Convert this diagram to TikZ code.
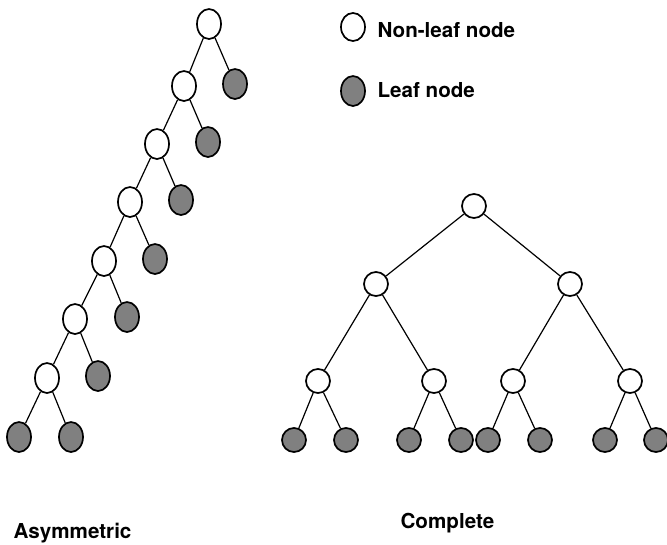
\documentclass[tikz,border=0pt]{standalone}
\usepackage{fontspec}
\setmainfont{TeX Gyre Heros}
\usetikzlibrary{shapes.geometric}

\begin{document}
\begin{tikzpicture}[x=1pt, y=-1pt, line width=1.2pt,
  inner/.style={ellipse, draw, fill=white, minimum width=24pt, minimum height=30pt, inner sep=0pt, line width=1.7pt},
  leaf/.style={inner, fill=black!50},
  cinner/.style={circle, draw, fill=white, minimum size=24pt, inner sep=0pt, line width=1.7pt},
  cleaf/.style={cinner, fill=black!50},
  lbl/.style={anchor=base west, inner sep=0pt, font=\fontsize{20.6}{24}\selectfont\bfseries}]

  \useasboundingbox (0,0) rectangle (667,544);

  % Asymmetric tree: non-leaf spine
  \node[inner] (a0) at (209,24) {};
  \node[inner] (a1) at (184,86) {};
  \node[inner] (a2) at (157,144) {};
  \node[inner] (a3) at (130,202) {};
  \node[inner] (a4) at (104,261) {};
  \node[inner] (a5) at (75,319) {};
  \node[inner] (a6) at (47,378) {};

  % Asymmetric tree: leaves
  \node[leaf] (l0) at (235,84) {};
  \node[leaf] (l1) at (208,142) {};
  \node[leaf] (l2) at (181,200) {};
  \node[leaf] (l3) at (155,259) {};
  \node[leaf] (l4) at (127,317) {};
  \node[leaf] (l5) at (98,376) {};
  \node[leaf] (l6) at (19,437) {};
  \node[leaf] (l7) at (71,437) {};

  \draw (a0) -- (a1) (a0) -- (l0);
  \draw (a1) -- (a2) (a1) -- (l1);
  \draw (a2) -- (a3) (a2) -- (l2);
  \draw (a3) -- (a4) (a3) -- (l3);
  \draw (a4) -- (a5) (a4) -- (l4);
  \draw (a5) -- (a6) (a5) -- (l5);
  \draw (a6) -- (l6) (a6) -- (l7);

  % Complete tree
  \node[cinner] (c) at (474,206) {};
  \node[cinner] (cl) at (376,284) {};
  \node[cinner] (cr) at (570,284) {};
  \node[cinner] (cll) at (318,381) {};
  \node[cinner] (clr) at (434,381) {};
  \node[cinner] (crl) at (513,381) {};
  \node[cinner] (crr) at (630,381) {};

  \node[cleaf] (k1) at (294,440) {};
  \node[cleaf] (k2) at (346,440) {};
  \node[cleaf] (k3) at (409,440) {};
  \node[cleaf] (k4) at (461,440) {};
  \node[cleaf] (k5) at (488,440) {};
  \node[cleaf] (k6) at (540,440) {};
  \node[cleaf] (k7) at (605,440) {};
  \node[cleaf] (k8) at (656,440) {};

  \draw (c) -- (cl) (c) -- (cr);
  \draw (cl) -- (cll) (cl) -- (clr);
  \draw (cr) -- (crl) (cr) -- (crr);
  \draw (cll) -- (k1) (cll) -- (k2);
  \draw (clr) -- (k3) (clr) -- (k4);
  \draw (crl) -- (k5) (crl) -- (k6);
  \draw (crr) -- (k7) (crr) -- (k8);

  % Legend
  \node[inner, minimum height=28pt] (keyinner) at (353,27) {};
  \node[leaf] (keyleaf) at (353,91) {};
  \node[lbl] (keyinnertxt) at (377,37) {Non-leaf node};
  \node[lbl] (keyleaftxt) at (377,97) {Leaf node};

  % Captions
  \node[lbl] (capasym) at (13,538) {Asymmetric};
  \node[lbl] (capcomp) at (400,528) {Complete};

\end{tikzpicture}
\end{document}
